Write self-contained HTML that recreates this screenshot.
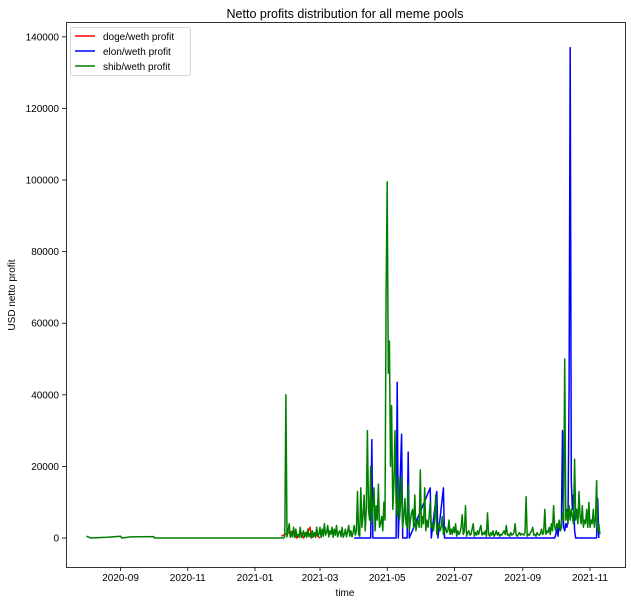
<!DOCTYPE html>
<html><head><meta charset="utf-8"><style>
body{margin:0;background:#fff;}
svg{display:block;font-family:"Liberation Sans","DejaVu Sans",sans-serif;}
</style></head><body>
<svg id="chart" width="631" height="604" viewBox="0 0 631 604" xmlns="http://www.w3.org/2000/svg">
<rect width="631" height="604" fill="#fff"/>
<text x="345" y="18" font-size="12.5" text-anchor="middle">Netto profits distribution for all meme pools</text>
<g id="plot"></g>
<rect x="66.5" y="22.5" width="559" height="545" fill="none" stroke="#000" stroke-width="0.8"/>
<g id="axes"></g>
<text x="345" y="596" font-size="10" text-anchor="middle">time</text>
<text transform="translate(15,295) rotate(-90)" font-size="10" text-anchor="middle">USD netto profit</text>
<g>
<rect x="70.5" y="27.5" width="120" height="48" rx="2" fill="#fff" stroke="#ccc" stroke-width="0.8"/>
<g><line x1="75" y1="36" x2="95" y2="36" stroke="red" stroke-width="1.5"/><text x="103" y="40" font-size="10">doge/weth profit</text></g>
<g><line x1="75" y1="51" x2="95" y2="51" stroke="blue" stroke-width="1.5"/><text x="103" y="55" font-size="10">elon/weth profit</text></g>
<g><line x1="75" y1="66" x2="95" y2="66" stroke="green" stroke-width="1.5"/><text x="103" y="70" font-size="10">shib/weth profit</text></g>
</g>
</svg>
<script>
const xTickLabels=["2020-09","2020-11","2021-01","2021-03","2021-05","2021-07","2021-09","2021-11"];
const yTickValues=[0,20000,40000,60000,80000,100000,120000,140000];
const redDates=["2021-01-25","2021-01-28","2021-02-05","2021-02-08","2021-02-12","2021-02-14","2021-02-20","2021-02-21","2021-02-25","2021-03-01"];
const redValues=[500,1000,2000,0,1500,0,3000,0,1000,0];
const blueDates=["2021-04-01","2021-04-16","2021-04-17","2021-04-18","2021-05-09","2021-05-10","2021-05-11","2021-05-14","2021-05-15","2021-05-19","2021-05-20","2021-05-21","2021-06-09","2021-06-10","2021-06-15","2021-06-16","2021-06-21","2021-06-22","2021-09-30","2021-10-01","2021-10-02","2021-10-03","2021-10-04","2021-10-05","2021-10-06","2021-10-07","2021-10-08","2021-10-09","2021-10-10","2021-10-11","2021-10-12","2021-10-13","2021-10-14","2021-10-15","2021-10-16","2021-10-17","2021-10-18","2021-10-19","2021-11-07","2021-11-08","2021-11-09"];
const blueValues=[0,0,27500,0,0,43500,0,29000,0,0,24000,0,14000,0,13000,0,14000,0,0,1000,3000,500,4000,2000,3000,30000,3000,2000,4000,3000,5000,42000,137000,16000,8000,12000,2000,0,0,11000,0];
const greenEarlyDates=["2020-08-01","2020-08-05","2020-08-20","2020-09-01","2020-09-02","2020-09-10","2020-10-01","2020-10-02","2021-01-25"];
const greenEarlyValues=[500,0,200,500,0,300,400,0,0];
const greenDailyStart="2021-01-26";
const greenDailyValues=[
0,0,500,40000,300,2000,
4000,200,1500,300,3000,100,2500,500,1000,200,3000,100,800,2000,300,1500,200,2500,400,1200,100,2000,300,1500,200,3000,500,1000,
3000,200,2500,500,4000,800,1500,3500,300,2000,1000,3000,200,2500,800,3500,300,1500,2000,400,3000,200,1000,2500,300,1800,3500,500,2000,300,1500,
3500,800,2000,13000,1000,500,14000,3000,6000,12000,2000,8000,30000,8000,5000,20000,4000,9000,14000,2000,9000,5000,15000,3000,4000,6000,2000,10000,5000,68000,
99500,46000,55000,20000,37000,8000,15000,30000,10000,6000,17000,5000,9000,17000,3000,6000,11000,4000,3000,15000,2000,5000,7000,8000,3000,12000,2000,4000,5000,3000,19000,
3000,6000,4000,14000,2000,5000,3000,6000,10000,3000,4000,2000,5000,12000,1000,3000,4000,2000,3000,6000,1000,2000,3000,1500,2000,5000,1000,2500,1000,3000,
1500,4000,500,2000,1000,1500,3000,6500,1000,2000,9000,500,1500,2000,800,1000,2500,4000,500,1500,800,2000,1000,2500,3500,800,1500,1000,2000,500,7000,
1000,500,1500,800,2000,500,1000,2000,800,1500,500,1000,800,1500,2000,1000,3500,800,1000,500,1500,800,1000,1500,4000,800,500,1000,1500,800,1200,
1000,800,1500,11500,500,1000,800,1500,2000,3000,800,1000,500,1500,1000,800,1200,2500,1000,1500,8000,1000,2000,1500,3000,1000,4000,2000,9000,3000,
2000,4000,3000,5000,2000,3000,7000,5000,50000,5000,8000,4000,9000,5000,8000,6000,4000,22000,5000,8000,4000,13000,6000,4000,9000,3000,5000,4000,8000,3000,10000,
3000,5000,4000,8000,3000,5000,16000,2000,4000,1000];

const NS="http://www.w3.org/2000/svg";
const base=Date.UTC(2021,0,1), DAY=86400000;
function toT(d){return Date.UTC(+d.slice(0,4),+d.slice(5,7)-1,d.length>7?+d.slice(8,10):1);}
function xT(t){return 255+(t-base)/DAY*1.102;}
function xScale(d){return xT(toT(d));}
function yScale(v){return 538-v*0.0035795;}
const plot=document.getElementById('plot'), axes=document.getElementById('axes');
function series(xs,vals,color,name){
  const p=document.createElementNS(NS,'path');
  
  
  p.setAttribute('d',xs.map((x,i)=>(i?'L':'M')+x.toFixed(1)+','+yScale(vals[i]).toFixed(1)).join(''));
  p.setAttribute('fill','none');p.setAttribute('stroke',color);p.setAttribute('stroke-width','1.5');p.setAttribute('stroke-linejoin','round');
  plot.appendChild(p);
}
series(redDates.map(xScale),redValues,'red','doge-series');
series(blueDates.map(xScale),blueValues,'blue','elon-series');
const gStart=toT(greenDailyStart);
const gx=greenEarlyDates.map(xScale).concat(greenDailyValues.map((v,i)=>xT(gStart+i*DAY)));
series(gx,greenEarlyValues.concat(greenDailyValues),'green','shib-series');
xTickLabels.forEach(l=>{
  const x=xScale(l);
  const t=document.createElementNS(NS,'line');
  
  
  t.setAttribute('x1',x);t.setAttribute('x2',x);t.setAttribute('y1',567);t.setAttribute('y2',571);t.setAttribute('stroke','#000');t.setAttribute('stroke-width','0.8');
  axes.appendChild(t);
  const tx=document.createElementNS(NS,'text');
  
  
  tx.setAttribute('x',x);tx.setAttribute('y',581);tx.setAttribute('font-size','10');tx.setAttribute('text-anchor','middle');
  tx.textContent=l;axes.appendChild(tx);
});
yTickValues.forEach(v=>{
  const y=yScale(v);
  const t=document.createElementNS(NS,'line');
  
  
  t.setAttribute('x1',62);t.setAttribute('x2',66);t.setAttribute('y1',y);t.setAttribute('y2',y);t.setAttribute('stroke','#000');t.setAttribute('stroke-width','0.8');
  axes.appendChild(t);
  const tx=document.createElementNS(NS,'text');
  
  
  tx.setAttribute('x',59);tx.setAttribute('y',y+3.5);tx.setAttribute('font-size','10');tx.setAttribute('text-anchor','end');
  tx.textContent=v;axes.appendChild(tx);
});
</script>
</body></html>
